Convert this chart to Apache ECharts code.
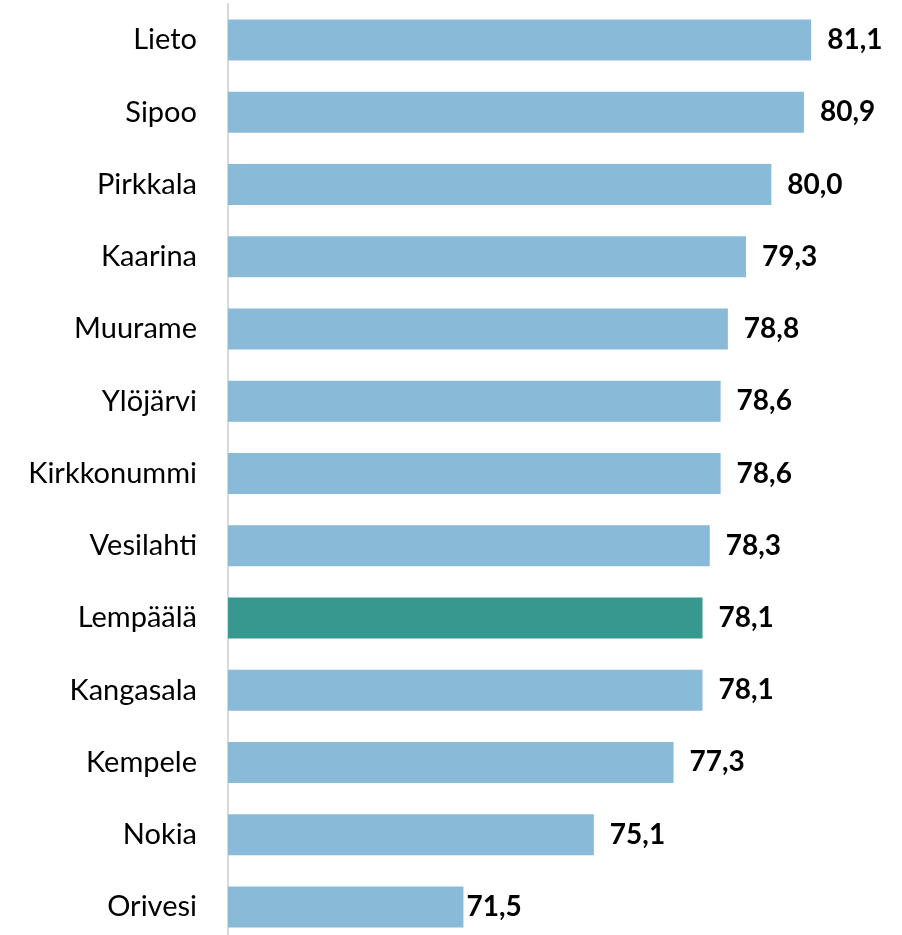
<!DOCTYPE html>
<html>
<head>
<meta charset="utf-8">
<script src="https://cdn.jsdelivr.net/npm/echarts@6/dist/echarts.min.js"></script>
<style>
  html, body { margin: 0; padding: 0; background: #fff; overflow: hidden; }
  #chart { width: 902px; height: 943px; }
</style>
</head>
<body>
<div id="chart"></div>
<script>
const municipalities = ['Lieto', 'Sipoo', 'Pirkkala', 'Kaarina', 'Muurame', 'Ylöjärvi', 'Kirkkonummi',
  'Vesilahti', 'Lempäälä', 'Kangasala', 'Kempele', 'Nokia', 'Orivesi']
const values = [81.1, 80.9, 80.0, 79.3, 78.8, 78.6, 78.6, 78.3, 78.1, 78.1, 77.3, 75.1, 71.5]
const highlight = 'Lempäälä'

const chart = echarts.init(document.getElementById('chart'))

chart.setOption({
  animation: false,
  grid: { left: 228, right: 22, top: 4, bottom: 0 },
  xAxis: {
    type: 'value', min: 65, max: 83,
    show: false
  },
  yAxis: {
    type: 'category', data: municipalities, inverse: true,
    axisLine: { lineStyle: { color: '#d9d9d9', width: 2 } },
    axisTick: { show: false },
    axisLabel: { color: '#000', fontSize: 29, fontFamily: 'Lato', margin: 31 }
  },
  series: [{
    type: 'bar', barWidth: 41,
    data: values.map((v, i) => ({
      value: v,
      itemStyle: { color: municipalities[i] === highlight ? '#379890' : '#89BAD7' },
      label: { distance: municipalities[i] === 'Orivesi' ? 3 : 16 }
    })),
    label: {
      show: true, position: 'right',
      color: '#000', fontSize: 28, fontWeight: 'bold', fontFamily: 'Lato',
      formatter: p => p.value.toFixed(1).replace('.', ',')
    }
  }]
})
</script>
</body>
</html>
